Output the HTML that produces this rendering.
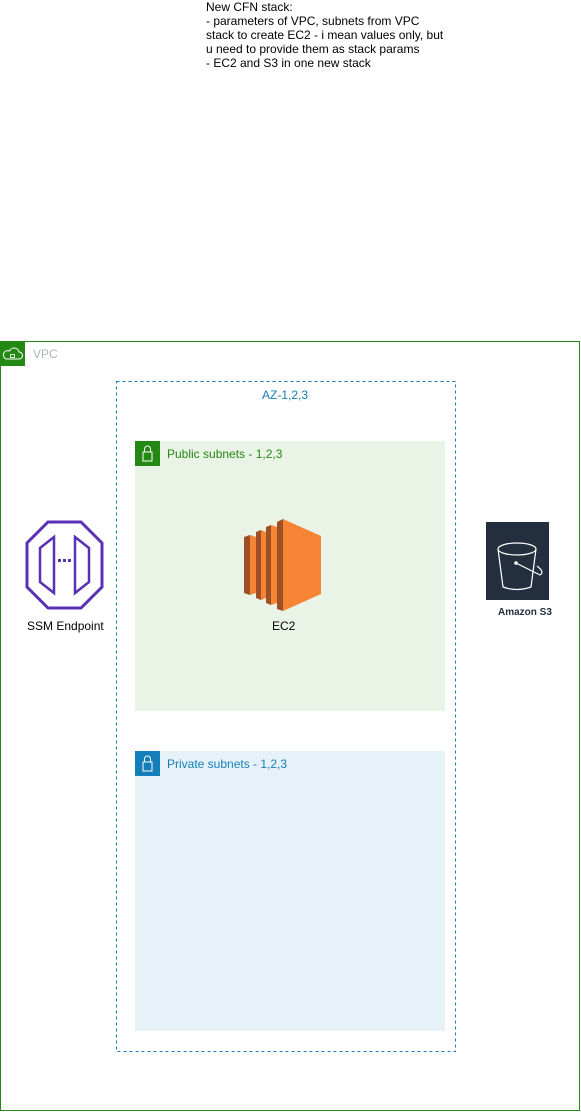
<!DOCTYPE html>
<html><head><meta charset="utf-8"><style>
html,body{margin:0;padding:0;background:#fff;}
body{width:581px;height:1112px;position:relative;overflow:hidden;font-family:"Liberation Sans",Arial,sans-serif;}
svg{position:absolute;left:0;top:0;}
.t{position:absolute;font-size:12px;color:#000;line-height:14px;}
</style></head><body>
<svg width="581" height="1112" viewBox="0 0 581 1112">
  <!-- VPC -->
  <rect x="0.5" y="341.5" width="579" height="769" fill="none" stroke="#248814" stroke-width="1"/>
  <rect x="0" y="341" width="25" height="25" fill="#248814"/>
  <path d="M6 359 h13 a3.5 3.5 0 0 0 0-7 a5 5 0 0 0-9.5-1 a4 4 0 0 0-3.5 8z" fill="none" stroke="#fff" stroke-width="1"/>
  <rect x="10.5" y="354.5" width="4" height="3" fill="none" stroke="#fff" stroke-width="0.8"/>
  <text x="33" y="358" font-family="Liberation Sans,sans-serif" font-size="12" fill="#AAB7B8">VPC</text>
  <!-- AZ -->
  <rect x="116.5" y="381.5" width="339" height="670" fill="none" stroke="#147EBA" stroke-width="1" stroke-dasharray="3,3"/>
  <text x="285" y="399" text-anchor="middle" font-family="Liberation Sans,sans-serif" font-size="12" fill="#147EBA">AZ-1,2,3</text>
  <!-- Public -->
  <rect x="135" y="441" width="310" height="270" fill="#E9F3E6"/>
  <rect x="135" y="441" width="25" height="25" fill="#248814"/>
  <rect x="143" y="452" width="9" height="9" fill="none" stroke="#fff" stroke-width="1"/>
  <path d="M144.5 452 v-3 a3 3 0 0 1 6 0 v3" fill="none" stroke="#fff" stroke-width="1"/>
  <text x="167" y="458" font-family="Liberation Sans,sans-serif" font-size="12" fill="#248814">Public subnets - 1,2,3</text>
  <!-- Private -->
  <rect x="135" y="751" width="310" height="280" fill="#E6F2F8"/>
  <rect x="135" y="751" width="25" height="25" fill="#147EBA"/>
  <rect x="143" y="762" width="9" height="9" fill="none" stroke="#fff" stroke-width="1"/>
  <path d="M144.5 762 v-3 a3 3 0 0 1 6 0 v3" fill="none" stroke="#fff" stroke-width="1"/>
  <text x="167" y="768" font-family="Liberation Sans,sans-serif" font-size="12" fill="#147EBA">Private subnets - 1,2,3</text>
  <!-- EC2 -->
  <polygon points="244,537 250,535 250,595 244,593" fill="#9D5025"/>
  <polygon points="250,535 256,537 256,593 250,595" fill="#F58534"/>
  <polygon points="256,532 261,530 261,600 256,598" fill="#9D5025"/>
  <polygon points="261,530 266,532 266,598 261,600" fill="#F58534"/>
  <polygon points="266,527 271,525 271,605 266,603" fill="#9D5025"/>
  <polygon points="271,525 277,527 277,603 271,605" fill="#F58534"/>
  <polygon points="277,522 283,519 283,611 277,609" fill="#9D5025"/>
  <polygon points="283,519 321,536 321,594 283,611" fill="#F58534"/>
  <!-- SSM -->
  <polygon points="48,522 81,522 102,543 102,587 81,608 48,608 27,587 27,543" fill="none" stroke="#5A30B5" stroke-width="3"/>
  <polygon points="40,548 54,537 54,593 40,582" fill="none" stroke="#5A30B5" stroke-width="2.5"/>
  <polygon points="89,548 75,537 75,593 89,582" fill="none" stroke="#5A30B5" stroke-width="2.5"/>
  <rect x="58" y="559" width="3" height="3" fill="#5A30B5"/>
  <rect x="63" y="559" width="3" height="3" fill="#5A30B5"/>
  <rect x="68" y="559" width="3" height="3" fill="#5A30B5"/>
  <!-- S3 -->
  <rect x="486" y="522" width="63" height="78" fill="#232F3E"/>
  <ellipse cx="517" cy="549" rx="19" ry="6" fill="none" stroke="#fff" stroke-width="1.2"/>
  <path d="M498 549 L503 587 Q517 592 531 587 L536 549" fill="none" stroke="#fff" stroke-width="1.2"/>
  <circle cx="516" cy="563" r="1.8" fill="#fff"/>
  <path d="M516 563 L540 575 Q545 572 537 566" fill="none" stroke="#fff" stroke-width="1.2"/>
</svg>
<div class="t" style="left:206px;top:0px;">New CFN stack:<br>- parameters of VPC, subnets from VPC<br>stack to create EC2 - i mean values only, but<br>u need to provide them as stack params<br>- EC2 and S3 in one new stack</div>
<div class="t" style="left:27px;top:619px;">SSM Endpoint</div>
<div class="t" style="left:272px;top:619px;">EC2</div>
<div class="t" style="left:498px;top:606px;font-size:10px;font-weight:bold;color:#232F3E;">Amazon S3</div>
</body></html>
